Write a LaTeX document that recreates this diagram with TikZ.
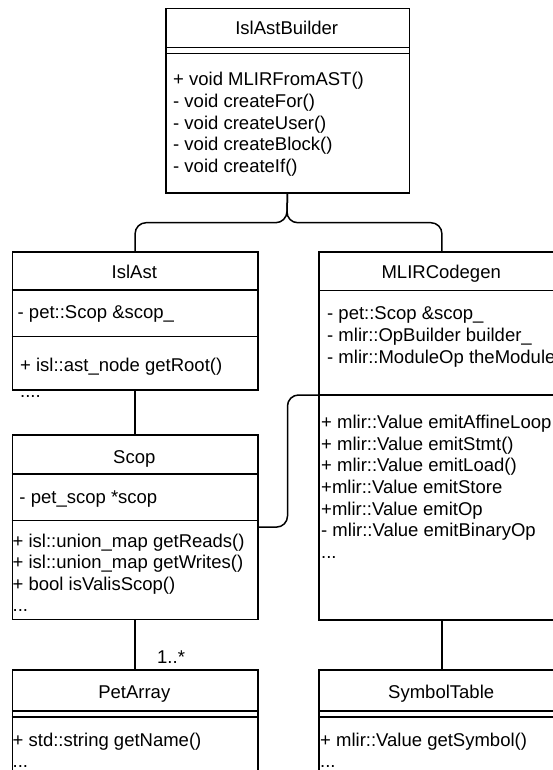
\documentclass[tikz,border=0pt]{standalone}
\usepackage{fontspec}
\setmainfont{Liberation Sans}
\begin{document}
\begin{tikzpicture}[x=1pt,y=-1pt,
  box/.style={draw, line width=1.5pt, rectangle, inner sep=0pt, anchor=north west},
  cls/.style={font=\fontsize{18.5}{21.6}\selectfont},
  ttl/.style={cls, anchor=base, inner sep=0pt},
  row/.style={cls, anchor=base west, inner sep=0pt},
  sep/.style={line width=1.5pt},
  link/.style={line width=1.5pt},
  conn/.style={line width=1.5pt, rounded corners=11pt}]
\useasboundingbox (0,0) rectangle (553,770);
\clip (0,0) rectangle (553,770);

% class boxes
\node[box, minimum width=243.5, minimum height=184] (builder) at (165,8) {};
\node[box, minimum width=245.3, minimum height=138] (islast) at (11.7,251) {};
\node[box, minimum width=245.3, minimum height=184.7] (scop) at (11.7,434) {};
\node[box, minimum width=245.7, minimum height=368.3] (mlir) at (318.3,251) {};
\node[box, minimum width=245.3, minimum height=150] (petarr) at (11.7,669.4) {};
\node[box, minimum width=245.7, minimum height=150] (symtab) at (318.3,669.4) {};

% compartment separators
\draw[sep] (165,47.3) -- (408.5,47.3);
\draw[sep] (165,53.5) -- (408.5,53.5);
\draw[sep] (11.7,290) -- (257,290);
\draw[sep] (11.7,336.7) -- (257,336.7);
\draw[sep] (11.7,474) -- (257,474);
\draw[sep] (11.7,520.7) -- (257,520.7);
\draw[sep] (318.3,290.7) -- (564,290.7);
\draw[sep] (318.3,395) -- (564,395);
\draw[sep] (11.7,711) -- (257,711);
\draw[sep] (11.7,717) -- (257,717);
\draw[sep] (318.3,711) -- (564,711);
\draw[sep] (318.3,717) -- (564,717);

% IslAstBuilder
\node[ttl] (builderT) at (286.7,35) {IslAstBuilder};
\node[row] (bm1) at (173,86) {+ void MLIRFromAST()};
\node[row] (bm2) at (173,107.6) {- void createFor()};
\node[row] (bm3) at (173,129.2) {- void createUser()};
\node[row] (bm4) at (173,150.8) {- void createBlock()};
\node[row] (bm5) at (173,172.4) {- void createIf()};

% IslAst
\node[ttl] (islastT) at (134.3,278.3) {IslAst};
\node[row] (ia1) at (17.5,318.5) {- pet::Scop \&scop\_};
\node[row] (im1) at (20,371.7) {+ isl::ast\_node getRoot()};
\node[row] (im2) at (20,397.5) {....};

% Scop
\node[ttl] (scopT) at (134.3,463.6) {Scop};
\node[row] (sa1) at (19.3,503.3) {- pet\_scop *scop};
\node[row] (sm1) at (12.5,547) {+ isl::union\_map getReads()};
\node[row] (sm2) at (12.5,568.6) {+ isl::union\_map getWrites()};
\node[row] (sm3) at (12.5,590.2) {+ bool isValisScop()};
\node[row] (sm4) at (12.5,611.8) {...};

% MLIRCodegen
\node[ttl] (mlirT) at (441.2,278.9) {MLIRCodegen};
\node[row] (ma1) at (327,319.8) {- pet::Scop \&scop\_};
\node[row] (ma2) at (327,341.4) {- mlir::OpBuilder builder\_};
\node[row] (ma3) at (327,363) {- mlir::ModuleOp theModule};
\node[row] (mm1) at (321,428.6) {+ mlir::Value emitAffineLoop};
\node[row] (mm2) at (321,450.2) {+ mlir::Value emitStmt()};
\node[row] (mm3) at (321,471.8) {+ mlir::Value emitLoad()};
\node[row] (mm4) at (321,493.4) {+mlir::Value emitStore};
\node[row] (mm5) at (321,515) {+mlir::Value emitOp};
\node[row] (mm6) at (321,536.6) {- mlir::Value emitBinaryOp};
\node[row] (mm7) at (321,558.2) {...};

% PetArray
\node[ttl] (petarrT) at (134.3,698.2) {PetArray};
\node[row] (pm1) at (12.5,746.5) {+ std::string getName()};
\node[row] (pm2) at (12.5,767) {...};

% SymbolTable
\node[ttl] (symtabT) at (441.2,698.2) {SymbolTable};
\node[row] (tm1) at (320,746.5) {+ mlir::Value getSymbol()};
\node[row] (tm2) at (320,767) {...};

% connectors
\coordinate (split) at (286.7,222.7);
\draw[conn] (builder.south) -- (split) -| (islast.north);
\draw[conn] (builder.south) -- (split) -| (mlir.north);
\draw[link] (islast.south) -- (scop.north);
\draw[link] (scop.south) -- (petarr.north);
\draw[link] (mlir.south) -- (symtab.north);
\coordinate (hop) at (287.5,395);
\coordinate (mlirin) at (318.3,395);
\draw[conn] (scop.east) -| (hop) -- (mlirin);
\node[row] (mult) at (157,663) {1..*};
\end{tikzpicture}
\end{document}
